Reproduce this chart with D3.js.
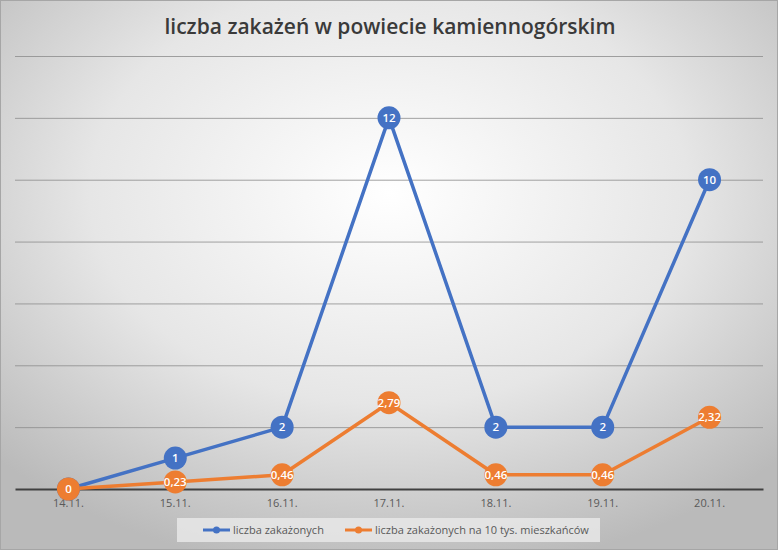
<!DOCTYPE html>
<html>
<head>
<meta charset="utf-8">
<title>liczba zakażeń</title>
<script src="https://cdn.jsdelivr.net/npm/d3@7"></script>
<style>
  body { margin: 0; }
  svg { display: block; font-family: "Open Sans", "Liberation Sans", sans-serif; }
</style>
</head>
<body>
<script>
const days = ["14.11.", "15.11.", "16.11.", "17.11.", "18.11.", "19.11.", "20.11."];
const cases = [0, 1, 2, 12, 2, 2, 10];
const casesPer10k = [0, 0.23, 0.46, 2.79, 0.46, 0.46, 2.32];
const yTicks = [0, 2, 4, 6, 8, 10, 12, 14];
const seriesNames = ["liczba zakażonych", "liczba zakażonych na 10 tys. mieszkańców"];
const colors = ["#4472c4", "#ed7d31"];

const width = 778, height = 550;
const margin = {top: 56, right: 15, bottom: 61, left: 15};

const svg = d3.select("body").append("svg")
  .attr("width", width).attr("height", height);

const defs = svg.append("defs");
const grad = defs.append("radialGradient").attr("id", "bg")
  .attr("cx", "50%").attr("cy", "35%").attr("r", "70%");
grad.append("stop").attr("offset", "0%").attr("stop-color", "#ffffff");
grad.append("stop").attr("offset", "55%").attr("stop-color", "#e6e6e6");
grad.append("stop").attr("offset", "100%").attr("stop-color", "#bababa");

svg.append("rect").attr("x", 0.5).attr("y", 0.5)
  .attr("width", width - 1).attr("height", height - 1)
  .attr("fill", "url(#bg)").attr("stroke", "#a6a6a6");

svg.append("text")
  .attr("x", width / 2 + 1).attr("y", 34)
  .attr("text-anchor", "middle")
  .attr("font-size", 21).attr("font-weight", 600)
  .attr("fill", "#3a3a3a")
  .text("liczba zakażeń w powiecie kamiennogórskim");

const x = d3.scaleBand().domain(days)
  .range([margin.left, width - margin.right]);
const y = d3.scaleLinear().domain([0, 14])
  .range([height - margin.bottom, margin.top]);

// gridlines
svg.append("g")
  .attr("transform", `translate(${margin.left},0)`)
  .call(d3.axisLeft(y).tickValues(yTicks.slice(1)).tickSize(-(width - margin.left - margin.right)).tickFormat(""))
  .call(g => g.select(".domain").remove())
  .call(g => g.selectAll(".tick line").attr("stroke", "#8c8c8c").attr("stroke-width", 0.8));

// x axis
svg.append("g")
  .attr("transform", `translate(0,${y(0)})`)
  .call(d3.axisBottom(x).tickSize(0).tickPadding(10))
  .call(g => g.select(".domain").attr("stroke", "#404040").attr("stroke-width", 2))
  .call(g => g.selectAll(".tick text").attr("fill", "#595959").attr("font-size", 11)
    .attr("font-family", "'Open Sans', sans-serif"));

const cx = d => x(d) + x.bandwidth() / 2;
const fmt = v => String(v).replace(".", ",");

[cases, casesPer10k].forEach((vals, i) => {
  const line = d3.line().x((d, j) => cx(days[j])).y(d => y(d));
  svg.append("path").datum(vals)
    .attr("d", line).attr("fill", "none")
    .attr("stroke", colors[i]).attr("stroke-width", 3.5)
    .attr("stroke-linejoin", "round");
});

[cases, casesPer10k].forEach((vals, i) => {
  const g = svg.append("g");
  g.selectAll("circle").data(vals).join("circle")
    .attr("cx", (d, j) => cx(days[j])).attr("cy", d => y(d))
    .attr("r", 11.5).attr("fill", colors[i]);
  g.selectAll("text").data(vals).join("text")
    .attr("x", (d, j) => cx(days[j])).attr("y", d => y(d) + 4)
    .attr("text-anchor", "middle").attr("font-size", 11.5)
    .attr("font-weight", 600).attr("fill", "#ffffff")
    .text(d => fmt(d));
});

// legend
const lg = svg.append("g");
lg.append("rect").attr("x", 177).attr("y", 518).attr("width", 423).attr("height", 24)
  .attr("fill", "#e8e8e8").attr("opacity", 0.85);
const legendX = [203, 345];
seriesNames.forEach((name, i) => {
  const item = lg.append("g").attr("transform", `translate(${legendX[i]},530)`);
  item.append("line").attr("x1", 0).attr("x2", 27)
    .attr("stroke", colors[i]).attr("stroke-width", 3);
  item.append("circle").attr("cx", 13.5).attr("r", 3.5).attr("fill", colors[i]);
  item.append("text").attr("x", 30).attr("y", 4)
    .attr("font-size", 11).attr("fill", "#595959")
    .text(name);
});
</script>
</body>
</html>
